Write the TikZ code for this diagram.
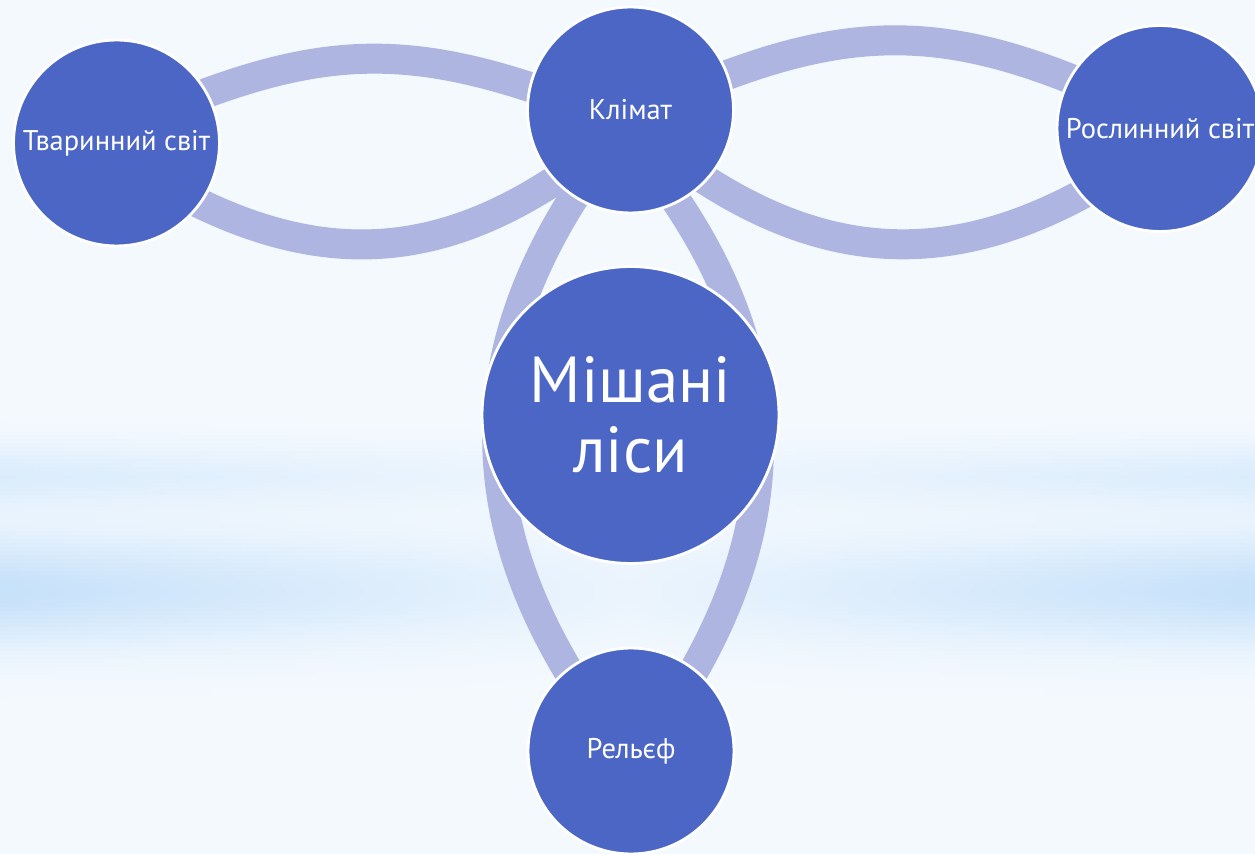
\documentclass[tikz,border=0pt]{standalone}
\usepackage{fontspec}
\setmainfont{PT Sans}
\definecolor{nodefill}{HTML}{4B66C5}
\definecolor{linkcol}{HTML}{ADB5E0}
\definecolor{bgbase}{HTML}{F4F9FE}
\definecolor{bgband}{HTML}{C4E0FA}
\pgfdeclarelayer{back}
\pgfdeclarelayer{links}
\pgfsetlayers{back,links,main}
\tikzstyle{topic}=[circle, fill=nodefill, draw=white, line width=1.6pt, inner sep=0pt, minimum size=4.12cm, text=white, font=\fontsize{16.2}{19}\selectfont, align=center]
\tikzstyle{hub}=[topic, minimum size=5.94cm, font=\fontsize{37}{39.5}\selectfont]
\tikzstyle{link}=[draw=linkcol, line width=0.6cm, shorten <=-10pt, shorten >=-10pt]

\begin{document}
\begin{tikzpicture}[x=0.02cm, y=-0.02cm]
    \useasboundingbox (0,0) rectangle (1255,854);
    \clip (0,0) rectangle (1255,854);
    % circles
    \node[topic] (animals) at (116.5,143) {Тваринний світ};
    \node[topic] (climate) at (630.5,110) {Клімат};
    \node[topic] (plants) at (1160,128.5) {Рослинний світ};
    \node[hub] (forest) at (630.5,415) {Мішані\\ліси};
    \node[topic] (relief) at (631,751) {Рельєф};
    % arcs behind the circles
    \begin{pgfonlayer}{links}
        \draw[link] (animals.29) to[bend left=20] (climate.167);
        \draw[link] (animals.-36) to[bend right=31] (climate.223);
        \draw[link] (climate.20) to[bend left=22] (plants.151);
        \draw[link] (climate.-43) to[bend right=32] (plants.220);
        \draw[link] (climate.237) to[bend right=33] (relief.128);
        \draw[link] (climate.297) to[bend left=33] (relief.52);
    \end{pgfonlayer}
    % background with two soft blue bands
    \begin{pgfonlayer}{back}
        \fill[bgbase] (0,0) rectangle (1255,854);
        \foreach \y in {380,384,...,740} {
            \pgfmathtruncatemacro\k{min(100, 100*(0.5*exp(-((\y-475)/32)^2) + 0.95*exp(-((\y-590)/55)^2)))}
            \pgfmathtruncatemacro\kc{\k/5}
            \shade[left color=bgband!\k!bgbase, right color=bgband!\k!bgbase, middle color=bgband!\kc!bgbase] (0,\y) rectangle (1255,\y+5);
        }
    \end{pgfonlayer}
\end{tikzpicture}
\end{document}
